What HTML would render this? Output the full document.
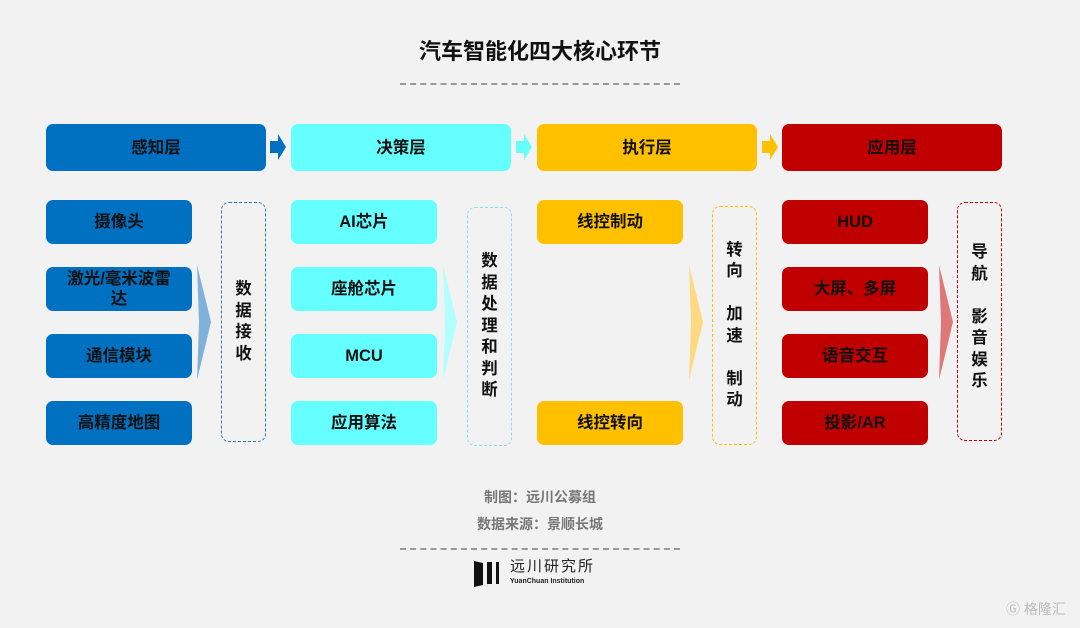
<!DOCTYPE html>
<html><head><meta charset="utf-8"><style>
body{margin:0;width:1080px;height:628px;background:#F2F2F2;position:relative;overflow:hidden;font-family:"Liberation Sans","Noto Sans CJK SC",sans-serif;color:#111}
.a{position:absolute}
.b{position:absolute;border-radius:7px;display:flex;align-items:center;justify-content:center;font-weight:bold;font-size:16.5px;text-align:center;line-height:20px}
.h{height:47px;width:220px;top:124px}
.i{width:146px;height:44px}
.d{position:absolute;border:1.5px dashed;border-radius:8px;box-sizing:border-box;width:45px;display:flex;align-items:center;justify-content:center;font-weight:bold;font-size:16.5px;line-height:21.5px;text-align:center}
.bl{background:#0070C0}.cy{background:#66FFFF}.ye{background:#FFC000}.re{background:#C00000}
</style></head><body>
<div class="a" style="left:0;width:1080px;top:34px;text-align:center;font-size:22px;font-weight:bold">汽车智能化四大核心环节</div>
<div class="a" style="left:400px;width:280px;top:83px;border-top:2px dashed #999"></div>

<div class="b h bl" style="left:46px">感知层</div>
<div class="b h cy" style="left:291px">决策层</div>
<div class="b h ye" style="left:537px">执行层</div>
<div class="b h re" style="left:782px">应用层</div>

<svg class="a" style="left:0;top:0" width="1080" height="628">
<polygon points="270,141 278,141 278,134 286,147 278,160 278,153 270,153" fill="#0070C0"/>
<polygon points="516,141 524,141 524,134 532,147 524,160 524,153 516,153" fill="#66FFFF"/>
<polygon points="762,141 770,141 770,134 778,147 770,160 770,153 762,153" fill="#FFC000"/>
<polygon points="197,265 211,322 197,380 199,322" fill="#7FB1D9"/>
<polygon points="443,265 457,322 443,380 445,322" fill="#B3FFFF"/>
<polygon points="689,265 703,322 689,380 691,322" fill="#FFD97F"/>
<polygon points="939,265 953,322 939,380 941,322" fill="#DE7878"/>
</svg>

<div class="b i bl" style="left:46px;top:200px">摄像头</div>
<div class="b i bl" style="left:46px;top:267px">激光/毫米波雷<br>达</div>
<div class="b i bl" style="left:46px;top:334px">通信模块</div>
<div class="b i bl" style="left:46px;top:401px">高精度地图</div>
<div class="d" style="left:221px;top:202px;height:240px;border-color:#2E75B6">数<br>据<br>接<br>收</div>

<div class="b i cy" style="left:291px;top:200px">AI芯片</div>
<div class="b i cy" style="left:291px;top:267px">座舱芯片</div>
<div class="b i cy" style="left:291px;top:334px">MCU</div>
<div class="b i cy" style="left:291px;top:401px">应用算法</div>
<div class="d" style="left:467px;top:207px;height:239px;border-color:#7FE5E5">数<br>据<br>处<br>理<br>和<br>判<br>断</div>

<div class="b i ye" style="left:537px;top:200px">线控制动</div>
<div class="b i ye" style="left:537px;top:401px">线控转向</div>
<div class="d" style="left:712px;top:206px;height:239px;border-color:#FFC000">转<br>向<br><br>加<br>速<br><br>制<br>动</div>

<div class="b i re" style="left:782px;top:200px">HUD</div>
<div class="b i re" style="left:782px;top:267px">大屏、多屏</div>
<div class="b i re" style="left:782px;top:334px">语音交互</div>
<div class="b i re" style="left:782px;top:401px">投影/AR</div>
<div class="d" style="left:957px;top:202px;height:239px;border-color:#C00000;padding-bottom:8px">导<br>航<br><br>影<br>音<br>娱<br>乐</div>

<div class="a" style="left:0;width:1080px;top:487px;text-align:center;font-size:14px;font-weight:bold;color:#777">制图：远川公募组</div>
<div class="a" style="left:0;width:1080px;top:514px;text-align:center;font-size:14px;font-weight:bold;color:#777">数据来源：景顺长城</div>
<div class="a" style="left:400px;width:280px;top:548px;border-top:2px dashed #999"></div>
<svg class="a" style="left:474px;top:559px" width="30" height="28">
<polygon points="0,2 9,4 9,26 0,28" fill="#111"/><rect x="13" y="3" width="5" height="22" fill="#111"/><rect x="22" y="3" width="3" height="22" fill="#111"/>
</svg>
<div class="a" style="left:510px;top:559px;font-size:15px;line-height:16px;letter-spacing:2px;color:#222">远川研究所</div>
<div class="a" style="left:510px;top:578px;font-size:7px;line-height:8px;font-weight:bold;color:#222">YuanChuan Institution</div>
<div class="a" style="left:1006px;top:599px;font-size:14px;color:#bbb">Ⓖ 格隆汇</div>
</body></html>
